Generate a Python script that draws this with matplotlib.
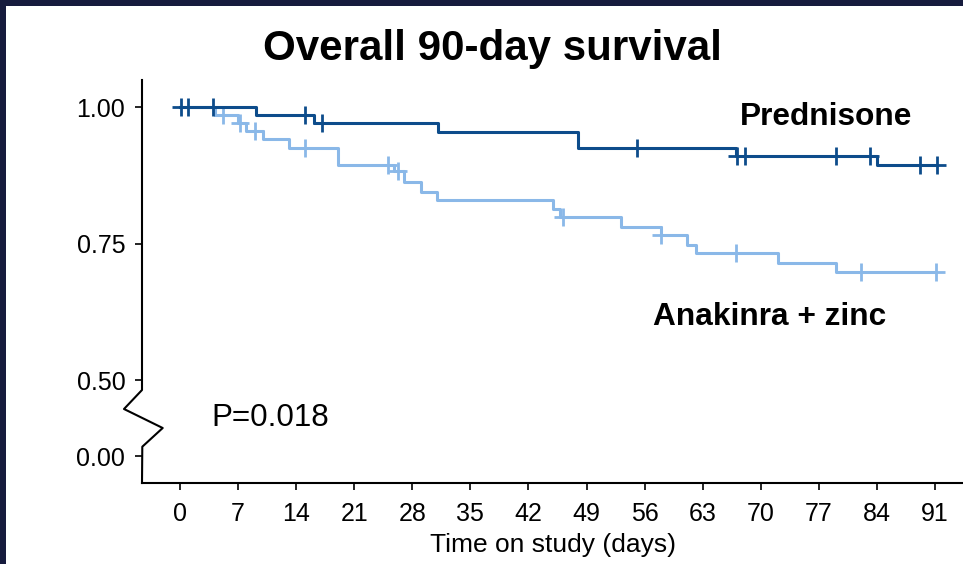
import matplotlib
matplotlib.use("Agg")
import matplotlib.pyplot as plt
from matplotlib.patches import Rectangle
from matplotlib.lines import Line2D

plt.rcParams['font.family'] = ['Liberation Sans', 'DejaVu Sans']

# ---------------- data ----------------
pred_times = [0, 9.1, 16.1, 31.1, 48.0, 67.0, 84.0, 91.2]
pred_surv = [1.0, 0.985, 0.970, 0.954, 0.925, 0.910, 0.894, 0.894]
pred_cens_t = [0.1, 1.0, 4.0, 15.1, 17.1, 55.1, 67.1, 68.1, 79.1, 83.2, 89.2, 91.2]

ana_times = [0, 4.2, 7.0, 8.0, 10.0, 13.1, 19.1, 25.8, 27.0, 29.0, 31.0,
             45.0, 45.8, 53.1, 58.0, 61.1, 62.2, 72.1, 79.1, 91.1]
ana_surv = [1.0, 0.986, 0.971, 0.957, 0.941, 0.925, 0.894, 0.882, 0.863, 0.845, 0.829,
            0.813, 0.798, 0.781, 0.766, 0.748, 0.732, 0.715, 0.698, 0.698]
ana_cens_t = [5.2, 7.2, 9.0, 15.1, 25.1, 26.3, 46.2, 58.0, 67.0, 82.1, 91.1]

x_ticks = [0, 7, 14, 21, 28, 35, 42, 49, 56, 63, 70, 77, 84, 91]
y_tick_labels = ['0.00', '0.50', '0.75', '1.00']
y_tick_vals = [0.3608, 0.50, 0.75, 1.00]   # 0.00 drawn below the axis break

title = "Overall 90-day survival"
x_label = "Time on study (days)"
label_pred = "Prednisone"
label_ana = "Anakinra + zinc"
p_text = "P=0.018"

dark = "#0d4c8b"
light = "#8ab8e8"
border = "#161b3d"

W, H = 963, 564
fig = plt.figure(figsize=(W / 100, H / 100), dpi=100, facecolor=border)
fig.patches.append(Rectangle((6 / W, 0), 1 - 6 / W, (H - 6) / H,
                             transform=fig.transFigure, facecolor='white',
                             edgecolor='none', zorder=-10))

def fx(px):
    return px / W

def fy(py):
    return (H - py) / H

ax_l, ax_r, ax_t, ax_b = 142, 963, 80, 483
ax = fig.add_axes([fx(ax_l), fy(ax_b), (ax_r - ax_l) / W, (ax_b - ax_t) / H])
ax.set_facecolor('none')
ax.set_zorder(5)

def surv_at(times, surv, t):
    s = surv[0]
    for ti, si in zip(times, surv):
        if ti <= t:
            s = si
    return s

ax.step(ana_times, ana_surv, where='post', color=light, lw=2.2, zorder=3)
ax.plot(ana_cens_t, [surv_at(ana_times, ana_surv, t) for t in ana_cens_t],
        ls='none', marker='+', ms=13, mew=2.0, color=light, zorder=3)
ax.step(pred_times, pred_surv, where='post', color=dark, lw=2.2, zorder=4)
ax.plot(pred_cens_t, [surv_at(pred_times, pred_surv, t) for t in pred_cens_t],
        ls='none', marker='+', ms=13, mew=2.0, color=dark, zorder=4)

ax.set_xlim(-4.58, 94.37)
ax.set_ylim(0.3114, 1.0495)
ax.set_xticks(x_ticks)
ax.set_xticklabels([str(t) for t in x_ticks])
ax.set_yticks(y_tick_vals)
ax.set_yticklabels(y_tick_labels)
ax.tick_params(axis='both', labelsize=18, length=5, width=1.2, color='black',
               labelcolor='black')
ax.tick_params(axis='x', pad=9)
ax.tick_params(axis='y', pad=7)

for s in ['top', 'right', 'left']:
    ax.spines[s].set_visible(False)
ax.spines['bottom'].set_linewidth(1.5)

# left spine with break (zigzag)
def axf(px, py):
    return ((px - ax_l) / (ax_r - ax_l), (ax_b - py) / (ax_b - ax_t))

pts = [axf(142, 80), axf(142, 390), axf(124, 409), axf(162.7, 428),
       axf(142.3, 446.7), axf(142, 483)]
ax.add_line(Line2D([p[0] for p in pts], [p[1] for p in pts], transform=ax.transAxes,
                   color='black', lw=1.5, clip_on=False, zorder=5))

ax.set_xlabel(x_label, fontsize=19, labelpad=5)

fig.text(fx(492), fy(60), title, ha='center', va='baseline', fontsize=30.3,
         fontweight='bold')
fig.text(fx(740), fy(125), label_pred, ha='left', va='baseline', fontsize=22.8,
         fontweight='bold')
fig.text(fx(653), fy(325), label_ana, ha='left', va='baseline', fontsize=22.8,
         fontweight='bold')
fig.text(fx(211), fy(426), p_text, ha='left', va='baseline', fontsize=22.6)

fig.savefig("out.png", dpi=100, facecolor=border)
